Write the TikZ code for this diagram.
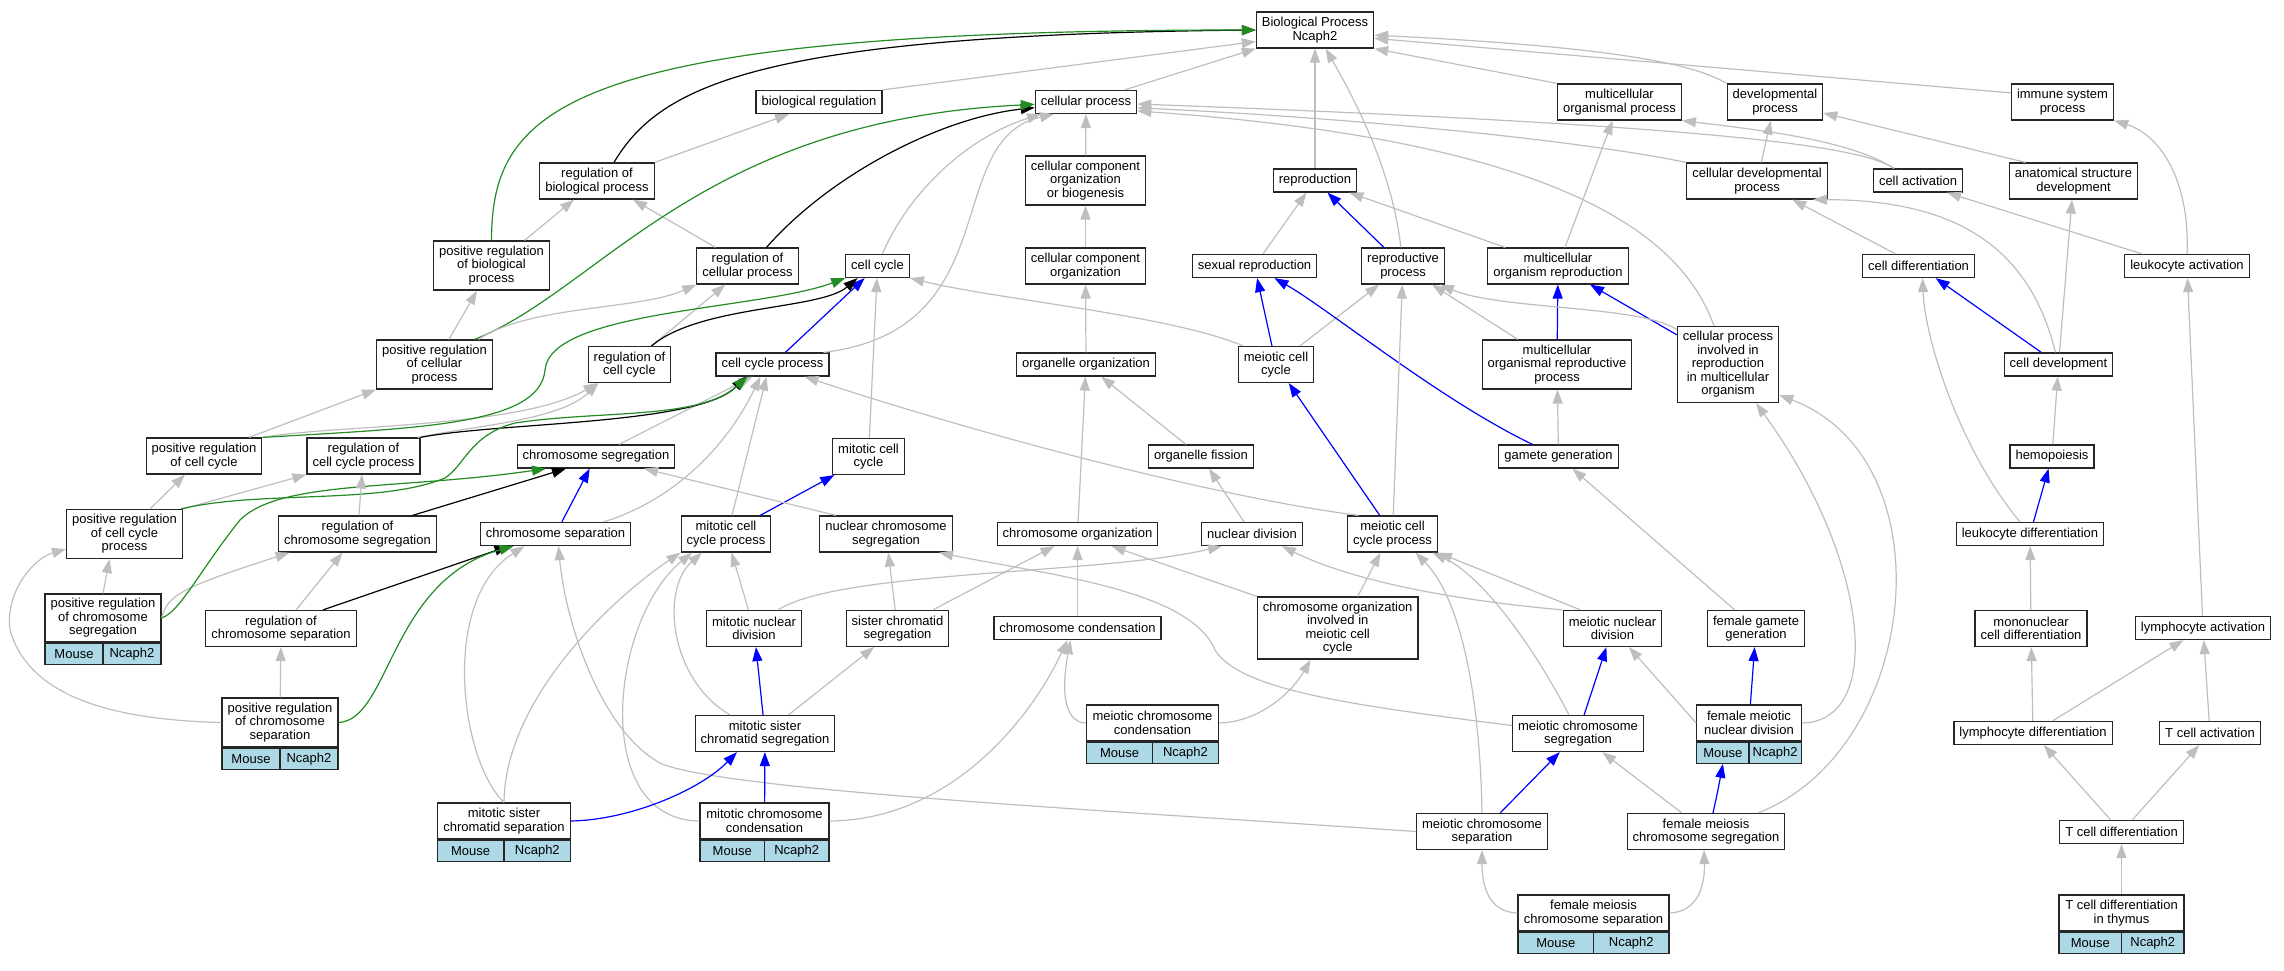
\documentclass[tikz,border=0pt]{standalone}
\usepackage{fontspec}
\setmainfont{Liberation Sans}
\usepackage{tikz}
\usetikzlibrary{arrows.meta}
\definecolor{edgegray}{HTML}{BEBEBE}
\definecolor{goforest}{HTML}{228B22}
\definecolor{golightblue}{HTML}{ADD8E6}

\begin{document}
\begin{tikzpicture}
    [
      x=1pt, y=-1pt,
      term/.style = {draw=black!85, line width=1.2pt, fill=white, align=center, inner xsep=5.5pt, inner ysep=0pt, font=\fontsize{13pt}{13.5pt}\selectfont},
      oneline/.style = {term, minimum height=23pt},
      twoline/.style = {term, minimum height=36pt},
      threeline/.style = {term, minimum height=49pt},
      fourline/.style = {term, minimum height=62pt},
      fiveline/.style = {term, minimum height=76pt},
      tag/.style = {draw=black!85, line width=1.2pt, fill=golightblue, minimum height=21pt, inner sep=0pt, font=\fontsize{13pt}{13.5pt}\selectfont},
      isa/.style = {draw=edgegray, line width=1.2pt, -{Triangle[length=14pt,width=10pt]}},
      partof/.style = {isa, draw=blue},
      regulates/.style = {isa, draw=black},
      posreg/.style = {isa, draw=goforest},
    ]
    \useasboundingbox (0,0) rectangle (2284,971);

    \node[twoline] (bp) at (1315,30) {Biological Process\\Ncaph2};
    \node[oneline] (bioreg) at (819,102) {biological regulation};
    \node[oneline] (cellp) at (1086,102) {cellular process};
    \node[twoline] (mcop) at (1619.5,102) {multicellular\\organismal process};
    \node[twoline] (devp) at (1775,102) {developmental\\process};
    \node[twoline] (immp) at (2062.5,102) {immune system\\process};
    \node[twoline] (regbio) at (597,181) {regulation of\\biological process};
    \node[threeline] (ccob) at (1085.5,180.5) {cellular component\\organization\\or biogenesis};
    \node[oneline] (repro) at (1315,180.5) {reproduction};
    \node[twoline] (celldevp) at (1757,181) {cellular developmental\\process};
    \node[oneline] (cellact) at (1918,180.5) {cell activation};
    \node[twoline] (asd) at (2073.5,181) {anatomical structure\\development};
    \node[threeline] (posbio) at (491.5,265.5) {positive regulation\\of biological\\process};
    \node[twoline] (regcell) at (747.5,266) {regulation of\\cellular process};
    \node[oneline] (cc) at (877.5,266) {cell cycle};
    \node[twoline] (cco) at (1085.5,266) {cellular component\\organization};
    \node[oneline] (sexrep) at (1254.5,266) {sexual reproduction};
    \node[twoline] (repp) at (1403,266) {reproductive\\process};
    \node[twoline] (mcor) at (1558,266) {multicellular\\organism reproduction};
    \node[oneline] (celldiff) at (1918.5,266) {cell differentiation};
    \node[oneline] (leuact) at (2187,266) {leukocyte activation};
    \node[threeline] (poscell) at (434.5,364.5) {positive regulation\\of cellular\\process};
    \node[twoline] (regcc) at (629.5,364.5) {regulation of\\cell cycle};
    \node[oneline] (ccp) at (772.5,364.5) {cell cycle process};
    \node[oneline] (oo) at (1086,364.5) {organelle organization};
    \node[twoline] (mcc) at (1276,364.5) {meiotic cell\\cycle};
    \node[threeline] (morp) at (1557,364.5) {multicellular\\organismal reproductive\\process};
    \node[fiveline] (cpir) at (1728,364.5) {cellular process\\involved in\\reproduction\\in multicellular\\organism};
    \node[oneline] (celldev) at (2058.5,364.5) {cell development};
    \node[twoline] (poscc) at (204,456) {positive regulation\\of cell cycle};
    \node[twoline] (regccp) at (363.5,456) {regulation of\\cell cycle process};
    \node[oneline] (chseg) at (596,456.5) {chromosome segregation};
    \node[twoline] (mitcc) at (868.5,456.5) {mitotic cell\\cycle};
    \node[oneline] (ofis) at (1201,456.5) {organelle fission};
    \node[oneline] (gamgen) at (1558.5,456.5) {gamete generation};
    \node[oneline] (hemo) at (2052,456.5) {hemopoiesis};
    \node[threeline] (posccp) at (124.5,534) {positive regulation\\of cell cycle\\process};
    \node[twoline] (regchseg) at (357.5,534) {regulation of\\chromosome segregation};
    \node[oneline] (chsep) at (555.5,534) {chromosome separation};
    \node[twoline] (mitccp) at (726,534) {mitotic cell\\cycle process};
    \node[twoline] (nucchseg) at (886,534) {nuclear chromosome\\segregation};
    \node[oneline] (chorg) at (1077.5,534) {chromosome organization};
    \node[oneline] (nucdiv) at (1252,534) {nuclear division};
    \node[twoline] (meiccp) at (1392.5,534) {meiotic cell\\cycle process};
    \node[oneline] (leudiff) at (2030,534) {leukocyte differentiation};
    \node[twoline] (regchsep) at (281,628.5) {regulation of\\chromosome separation};
    \node[twoline] (mitnd) at (754,628.5) {mitotic nuclear\\division};
    \node[twoline] (scseg) at (897.5,628.5) {sister chromatid\\segregation};
    \node[oneline] (chcond) at (1077.5,628) {chromosome condensation};
    \node[fourline] (coimc) at (1337.7,628) {chromosome organization\\involved in\\meiotic cell\\cycle};
    \node[twoline] (meind) at (1612.5,628.5) {meiotic nuclear\\division};
    \node[twoline] (femgg) at (1756,628.5) {female gamete\\generation};
    \node[twoline] (mondiff) at (2031,628.5) {mononuclear\\cell differentiation};
    \node[oneline] (lymact) at (2203,628) {lymphocyte activation};
    \node[twoline] (mitscseg) at (765,733.5) {mitotic sister\\chromatid segregation};
    \node[twoline] (meichseg) at (1578,733.5) {meiotic chromosome\\segregation};
    \node[oneline] (lymdiff) at (2033,733) {lymphocyte differentiation};
    \node[oneline] (tcellact) at (2210,733) {T cell activation};
    \node[twoline] (meichsep) at (1482,831.5) {meiotic chromosome\\separation};
    \node[twoline] (femmchseg) at (1706,831.5) {female meiosis\\chromosome segregation};
    \node[oneline] (tcelldiff) at (2121.5,832) {T cell differentiation};

    \node[threeline, minimum width=116pt, minimum height=48pt] (poschseg) at (103,618) {positive regulation\\of chromosome\\segregation};
    \node[tag, minimum width=58pt, anchor=north west] (poschseg-m) at (poschseg.south west) {Mouse};
    \node[tag, minimum width=58pt, anchor=north east] (poschseg-n) at (poschseg.south east) {Ncaph2};
    \node[threeline, minimum width=116pt] (poschsep) at (280,722.5) {positive regulation\\of chromosome\\separation};
    \node[tag, minimum width=58pt, anchor=north west] (poschsep-m) at (poschsep.south west) {Mouse};
    \node[tag, minimum width=58pt, anchor=north east] (poschsep-n) at (poschsep.south east) {Ncaph2};
    \node[twoline, minimum width=131.5pt] (mitscsep) at (504,821) {mitotic sister\\chromatid separation};
    \node[tag, minimum width=65.75pt, anchor=north west] (mitscsep-m) at (mitscsep.south west) {Mouse};
    \node[tag, minimum width=65.75pt, anchor=north east] (mitscsep-n) at (mitscsep.south east) {Ncaph2};
    \node[twoline, minimum width=129pt] (mitchcond) at (764.5,821) {mitotic chromosome\\condensation};
    \node[tag, minimum width=64.5pt, anchor=north west] (mitchcond-m) at (mitchcond.south west) {Mouse};
    \node[tag, minimum width=64.5pt, anchor=north east] (mitchcond-n) at (mitchcond.south east) {Ncaph2};
    \node[twoline, minimum width=132pt] (meichcond) at (1152.5,723) {meiotic chromosome\\condensation};
    \node[tag, minimum width=66pt, anchor=north west] (meichcond-m) at (meichcond.south west) {Mouse};
    \node[tag, minimum width=66pt, anchor=north east] (meichcond-n) at (meichcond.south east) {Ncaph2};
    \node[twoline, minimum width=104.5pt] (femmnd) at (1749,723) {female meiotic\\nuclear division};
    \node[tag, minimum width=52.25pt, anchor=north west] (femmnd-m) at (femmnd.south west) {Mouse};
    \node[tag, minimum width=52.25pt, anchor=north east] (femmnd-n) at (femmnd.south east) {Ncaph2};
    \node[twoline, minimum width=151pt] (femmchsep) at (1593.5,913) {female meiosis\\chromosome separation};
    \node[tag, minimum width=75.5pt, anchor=north west] (femmchsep-m) at (femmchsep.south west) {Mouse};
    \node[tag, minimum width=75.5pt, anchor=north east] (femmchsep-n) at (femmchsep.south east) {Ncaph2};
    \node[twoline, minimum width=125pt] (tdthy) at (2121.5,913) {T cell differentiation\\in thymus};
    \node[tag, minimum width=62.5pt, anchor=north west] (tdthy-m) at (tdthy.south west) {Mouse};
    \node[tag, minimum width=62.5pt, anchor=north east] (tdthy-n) at (tdthy.south east) {Ncaph2};

    \draw[isa] (bioreg.north east) -- (bp.191);
    \draw[isa] (cellp) -- (bp);
    \draw[regulates] ([xshift=17pt]regbio.north) .. controls (660,85) and (760,35) .. (bp.west);
    \draw[posreg] (posbio.north) .. controls (492,110) and (560,30) .. (bp.west);
    \draw[isa] (repro) -- (bp);
    \draw[isa] (repp) .. controls (1392,170) and (1355,100) .. (bp);
    \draw[isa] (mcop.north west) -- (bp.south east);
    \draw[isa] (devp.north west) .. controls (1700,68) and (1640,48) .. (bp.-5);
    \draw[isa] (immp.170) -- (bp.-8);

    \draw[isa] (regbio.north east) -- (bioreg.202);
    \draw[isa] ([xshift=33pt]posbio.north) -- ([xshift=-23pt]regbio.south);
    \draw[isa] ([xshift=-32pt]regcell.north) -- ([xshift=36pt]regbio.south);
    \draw[regulates] ([xshift=19pt]regcell.north) .. controls (830,175) and (940,118) .. (cellp);
    \draw[posreg] ([xshift=40pt]poscell.north) .. controls (600,290) and (700,120) .. (cellp);
    \draw[isa] ([xshift=5pt]cc.north) .. controls (905,200) and (960,140) .. ([xshift=-45pt]cellp.south);
    \draw[isa] ([xshift=51pt]ccp.north) .. controls (1010,330) and (940,140) .. ([xshift=-32pt]cellp.south);
    \draw[isa] (ccob) -- (cellp);
    \draw[isa] ([xshift=-14pt]cpir.north) .. controls (1680,230) and (1550,140) .. ([yshift=-9pt]cellp.east);
    \draw[isa] (celldevp.north west) .. controls (1550,135) and (1300,115) .. ([yshift=-6pt]cellp.east);
    \draw[isa] ([xshift=-24pt]cellact.north) .. controls (1860,145) and (1700,125) .. ([yshift=-2pt]cellp.east);
    \draw[isa] ([xshift=-24pt]cellact.north) .. controls (1850,140) and (1760,130) .. (mcop.south east);

    \draw[isa] (cco) -- (ccob);
    \draw[isa] (oo) -- (cco);
    \draw[isa] (chorg) -- (oo);
    \draw[isa] (ofis) -- (oo);
    \draw[isa] (nucdiv) -- (ofis);
    \draw[isa] (mcor) -- (mcop);
    \draw[isa] (sexrep) -- (repro);
    \draw[partof] (repp) -- (repro);
    \draw[isa] (mcor) -- (repro);
    \draw[partof] (mcc) -- (sexrep);
    \draw[isa] (mcc) -- (repp);
    \draw[isa] ([xshift=-33pt]mcc.north) .. controls (1170,315) and (1000,300) .. (cc.south east);
    \draw[partof] ([xshift=-26pt]gamgen.north) .. controls (1440,400) and (1330,310) .. ([xshift=20pt]sexrep.south);
    \draw[isa] (gamgen) -- (morp);
    \draw[partof] (morp) -- (mcor);
    \draw[isa] (morp) -- (repp);
    \draw[partof] (cpir) -- (mcor);
    \draw[isa] ([yshift=35pt]cpir.west) .. controls (1640,305) and (1500,310) .. ([xshift=37pt]repp.south);
    \draw[isa] (meiccp) -- (repp);
    \draw[partof] (meiccp) -- (mcc);
    \draw[isa] ([xshift=-34pt]meiccp.north) .. controls (1200,495) and (950,425) .. ([xshift=32pt]ccp.south);
    \draw[isa] (femgg) -- (gamgen);
    \draw[partof] (femmnd) -- (femgg);
    \draw[isa] (femmnd.west) -- (meind);
    \draw[isa] (femmnd.east) .. controls (1885,722) and (1870,560) .. ([xshift=28pt]cpir.south);
    \draw[isa] ([xshift=52pt]femmchseg.north) .. controls (1920,750) and (1950,460) .. ([yshift=8pt]cpir.south east);
    \draw[partof] ([xshift=7pt]femmchseg.north) .. controls (1718,790) .. (femmnd-m.south);
    \draw[isa] (femmchseg) -- (meichseg);
    \draw[isa] (femmchsep.west) .. controls (1488,912) and (1482,885) .. (meichsep.south);
    \draw[isa] (femmchsep.east) .. controls (1698,912) and (1705,885) .. ([xshift=-2pt]femmchseg.south);
    \draw[partof] (meichsep) -- (meichseg);
    \draw[isa] (meichsep.north) .. controls (1480,700) and (1462,600) .. ([xshift=23pt]meiccp.south);
    \draw[isa] (meichsep.west) .. controls (1100,810) and (720,790) .. (660,763) .. controls (600,730) and (565,620) .. ([xshift=3pt]chsep.south);
    \draw[partof] (meichseg) -- (meind);
    \draw[isa] ([xshift=-9pt]meichseg.north) .. controls (1530,640) and (1480,575) .. ([xshift=40pt]meiccp.south);
    \draw[isa] ([yshift=8pt]meichseg.west) .. controls (1350,705) and (1240,690) .. (1215,650) .. controls (1190,590) and (1050,575) .. ([xshift=53pt]nucchseg.south);
    \draw[isa] ([xshift=-32pt]meind.north) -- (meiccp.south east);
    \draw[isa] (meind.north west) .. controls (1450,600) and (1350,580) .. ([xshift=30pt]nucdiv.south);
    \draw[isa] ([xshift=20pt]coimc.north) -- ([xshift=-12pt]meiccp.south);
    \draw[isa] (coimc.north west) -- ([xshift=34pt]chorg.south);
    \draw[isa] (meichcond.east) .. controls (1260,722) and (1292,692) .. ([xshift=-27pt]coimc.south);
    \draw[isa] (meichcond.west) .. controls (1060,722) and (1063,680) .. ([xshift=-7pt]chcond.south);
    \draw[isa] (chcond) -- (chorg);
    \draw[isa] (scseg) -- (chorg);
    \draw[isa] (scseg) -- (nucchseg);
    \draw[isa] (mitscseg) -- (scseg);
    \draw[partof] (mitscseg) -- (mitnd);
    \draw[isa] ([xshift=-35pt]mitscseg.north) .. controls (670,680) and (660,590) .. ([xshift=-24pt]mitccp.south);
    \draw[partof] (mitchcond) -- (mitscseg);
    \draw[isa] (mitchcond.east) .. controls (950,820) and (1030,720) .. ([xshift=-10pt]chcond.south);
    \draw[isa] (mitchcond.west) .. controls (590,820) and (610,620) .. ([xshift=-34pt]mitccp.south);
    \draw[partof] (mitscsep.east) .. controls (630,820) and (700,790) .. ([xshift=-28pt]mitscseg.south);
    \draw[isa] (mitscsep.north) .. controls (460,760) and (440,600) .. ([xshift=-31pt]chsep.south);
    \draw[isa] (mitscsep.north) .. controls (505,700) and (610,600) .. (mitccp.south west);
    \draw[isa] (mitnd) -- (mitccp);
    \draw[isa] ([xshift=24pt]mitnd.north) .. controls (840,570) and (1100,575) .. ([xshift=-30pt]nucdiv.south);
    \draw[isa] ([xshift=6pt]mitccp.north) -- ([xshift=-6pt]ccp.south);
    \draw[partof] (mitccp) -- (mitcc);
    \draw[isa] (mitcc) -- (cc);
    \draw[isa] ([xshift=-50pt]nucchseg.north) -- ([xshift=48pt]chseg.south);
    \draw[partof] (chsep) -- (chseg);
    \draw[isa] ([xshift=48pt]chsep.north) .. controls (660,505) and (720,460) .. ([xshift=-12pt]ccp.south);
    \draw[isa] ([xshift=23pt]chseg.north) -- ([xshift=-20pt]ccp.south);
    \draw[partof] (ccp) -- (cc);

    \draw[isa] (regcc) -- (regcell);
    \draw[regulates] ([xshift=22pt]regcc.north) .. controls (700,305) and (820,310) .. ([xshift=-20pt]cc.south);
    \draw[isa] (poscell) -- (posbio);
    \draw[isa] ([xshift=44pt]poscell.north) .. controls (530,305) and (640,310) .. (regcell.south west);
    \draw[isa] ([xshift=45pt]poscc.north) -- (poscell.south west);
    \draw[isa] (poscc.north east) .. controls (330,425) and (520,428) .. ([xshift=-32pt]regcc.south);
    \draw[posreg] (poscc.north east) .. controls (420,428) and (540,425) .. (545,370) .. controls (550,310) and (760,310) .. (cc);
    \draw[isa] ([xshift=54pt]regccp.north) .. controls (480,425) and (560,420) .. ([xshift=-31pt]regcc.south);
    \draw[regulates] ([xshift=57pt]regccp.north) .. controls (500,422) and (700,425) .. ([xshift=-27pt]ccp.south);
    \draw[isa] (posccp) -- (poscc);
    \draw[isa] (posccp.north east) -- (regccp.south west);
    \draw[posreg] ([xshift=-2pt]posccp.north east) .. controls (260,490) and (380,505) .. (445,478) .. controls (465,465) and (470,435) .. (515,423) .. controls (600,410) and (700,420) .. ([xshift=-25pt]ccp.south);
    \draw[isa] (poschseg.north) -- ([xshift=-15pt]posccp.south);
    \draw[isa] (poschseg.east) .. controls (168,595) and (180,588) .. ([xshift=-68pt]regchseg.south);
    \draw[posreg] (poschseg.east) .. controls (180,612) and (200,570) .. (240,520) .. controls (280,480) and (400,490) .. ([xshift=-50pt]chseg.south);
    \draw[isa] (regchseg) -- (regccp);
    \draw[regulates] ([xshift=55pt]regchseg.north) -- ([xshift=-30pt]chseg.south);
    \draw[isa] (regchsep) -- (regchseg);
    \draw[regulates] ([xshift=42pt]regchsep.north) -- ([xshift=-47pt]chsep.south);
    \draw[isa] (poschsep) -- (regchsep);
    \draw[isa] (poschsep.west) .. controls (120,720) and (30,700) .. (10,630) .. controls (5,590) and (35,558) .. ([yshift=-15pt]posccp.west);
    \draw[posreg] (poschsep.east) .. controls (390,720) and (390,580) .. ([xshift=-42pt]chsep.south);

    \draw[isa] (celldevp) -- (devp);
    \draw[isa] (celldiff) -- (celldevp);
    \draw[isa] ([xshift=-3pt]celldev.north) .. controls (2030,250) and (1960,200) .. ([xshift=56pt]celldevp.south);
    \draw[partof] (celldev) -- (celldiff);
    \draw[isa] (celldev) -- (asd);
    \draw[isa] ([xshift=-48pt]asd.north) -- ([yshift=-11pt]devp.east);
    \draw[isa] ([xshift=-45pt]leuact.north) -- ([xshift=29pt]cellact.south);
    \draw[isa] (leuact.north) .. controls (2190,180) and (2160,135) .. (immp.south east);
    \draw[isa] (hemo) -- (celldev);
    \draw[partof] (leudiff) -- (hemo);
    \draw[isa] ([xshift=-10pt]leudiff.north) .. controls (1960,450) and (1925,340) .. ([xshift=4pt]celldiff.south);
    \draw[isa] (mondiff) -- (leudiff);
    \draw[isa] (lymdiff) -- (mondiff);
    \draw[isa] (lymdiff) -- (lymact);
    \draw[isa] (tcellact) -- (lymact);
    \draw[isa] (lymact) -- (leuact);
    \draw[isa] (tcelldiff) -- (lymdiff);
    \draw[isa] (tcelldiff) -- (tcellact);
    \draw[isa] (tdthy) -- (tcelldiff);
\end{tikzpicture}
\end{document}
